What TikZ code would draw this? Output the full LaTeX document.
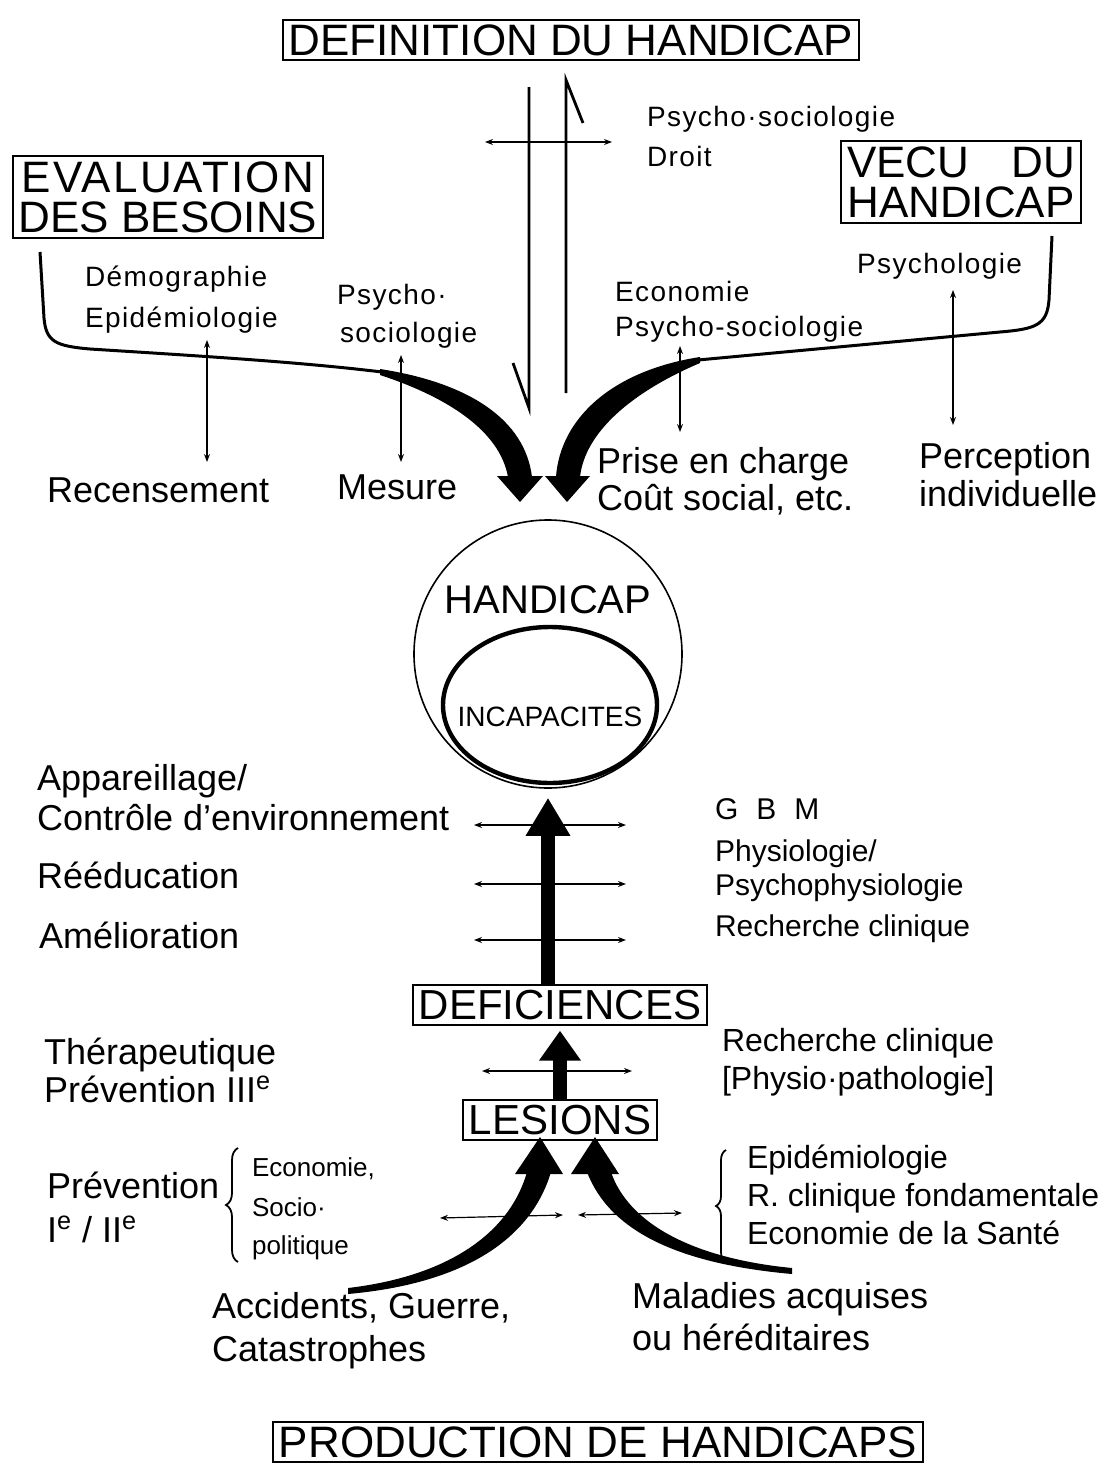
\documentclass[tikz,border=0pt]{standalone}
\usepackage{fontspec}
\setmainfont{Liberation Sans}
\newfontfamily\widefont[LetterSpace=5]{Liberation Sans}
\usetikzlibrary{arrows.meta,shapes.geometric,decorations.pathreplacing}

\begin{document}
\begin{tikzpicture}[x=0.5pt, y=-0.5pt,
    titlebox/.style={draw, line width=1pt, inner xsep=3pt, inner ysep=2.5pt, font=\fontsize{22}{20}\selectfont},
    lbl/.style={anchor=base west, font=\fontsize{18}{20}\selectfont},
    note/.style={anchor=base west, font=\fontsize{15}{17}\selectfont},
    wnote/.style={anchor=base west, font=\widefont\fontsize{14}{16}\selectfont},
    tw/.style={<->, >={Stealth[length=4pt,width=3pt]}, line width=0.6pt},
    fat/.style={line width=7pt, -{Triangle[length=19pt,width=21pt]}},
  ]
  \useasboundingbox (0,0) rectangle (1106,1467);

  % Boxes
  \node[titlebox, text depth=0pt] (defn) at (571,40) {DEFINITION DU HANDICAP};
  \node[titlebox, align=center] (evalb) at (168,197) {{\widefont EVALUATION}\\DES BESOINS};
  \node[titlebox, align=center] (vecu) at (961,182) {\makebox[114pt][s]{VECU DU}\\HANDICAP};
  \node[titlebox, text depth=0pt, font=\fontsize{21}{24}\selectfont] (defic) at (560,1005) {DEFICIENCES};
  \node[titlebox, text depth=0pt, font=\fontsize{21}{24}\selectfont] (lesions) at (560,1120) {LESIONS};
  \node[titlebox, text depth=0pt] (prod) at (598,1442) {PRODUCTION DE HANDICAPS};

  % Handicap / incapacites
  \node[circle, draw, line width=0.8pt, minimum size=134pt, inner sep=0pt] (hcirc) at (548,654) {};
  \node[ellipse, draw, line width=2.2pt, minimum width=107pt, minimum height=78pt, inner sep=0pt] (icirc) at (550,705) {};
  \node[font=\fontsize{20}{22}\selectfont] (hand) at (548,600) {HANDICAP};
  \node[font=\fontsize{14}{16}\selectfont] (incap) at (550,717) {INCAPACITES};

  % Definition arrows
  \coordinate (dtop) at (529,87);
  \coordinate (dbot) at (529,408);
  \coordinate (utop) at (566,80);
  \coordinate (ubot) at (566,393);
  \draw[line width=1.4pt] (dtop) -- (dbot) -- ++(-16,-45);
  \draw[line width=1.4pt] (ubot) -- (utop) -- ++(17,43);
  \coordinate (hl) at (485,142);
  \coordinate (hr) at (612,142);
  \draw[tw] (hl) -- (hr);
  \node[wnote] (psysoc) at (640,126) {Psycho·sociologie};
  \node[wnote] (droit) at (640,166) {Droit};

  % Left stream
  \coordinate (lsrc) at (40,252);
  \draw[line width=1.5pt] (lsrc) -- (44,318) .. controls (46,342) and (56,346) .. (90,349)
    .. controls (200,356) and (300,362) .. (382,372);
  \fill (380,369) .. controls (470,383) and (525,420) .. (532,477) -- (508,477)
    .. controls (500,432) and (450,398) .. (380,375) -- cycle;
  \fill (497,476) -- (543,476) -- (520,502) -- cycle;

  % Right stream
  \coordinate (rsrc) at (1052,236);
  \draw[line width=1.5pt] (rsrc) -- (1049,300) .. controls (1047,325) and (1036,329) .. (1000,332) -- (698,360);
  \fill (700,357) .. controls (610,371) and (560,420) .. (556,477) -- (580,477)
    .. controls (585,432) and (632,392) .. (700,363) -- cycle;
  \fill (545,476) -- (590,476) -- (567,502) -- cycle;

  \foreach \xx/\ya/\yb in {207/340/462, 401/355/462, 680/346/432, 953/290/425}
    \draw[tw] (\xx,\ya) -- (\xx,\yb);

  \node[wnote] (demo) at (78,286) {Démographie};
  \node[wnote] (epid) at (78,327) {Epidémiologie};
  \node[wnote] (psy1) at (330,304) {Psycho·};
  \node[wnote] (soc1) at (333,342) {sociologie};
  \node[wnote] (econ) at (608,301) {Economie};
  \node[wnote] (psysoc2) at (608,336) {Psycho-sociologie};
  \node[wnote] (psylog) at (850,273) {Psychologie};

  \node[lbl] (recens) at (40,502) {Recensement};
  \node[lbl] (mesure) at (330,499) {Mesure};
  \node[lbl] (prise) at (590,473) {Prise en charge};
  \node[lbl] (cout) at (590,510) {Coût social, etc.};
  \node[lbl] (percep) at (912,468) {Perception};
  \node[lbl] (indiv) at (912,506) {individuelle};

  % Deficiences -> handicap
  \draw[fat, shorten >=4.5pt] (defic.north -| hcirc.south) -- (hcirc.south);
  \foreach \yy in {825,884,940}
    \draw[tw] (474,\yy) -- (626,\yy);

  \node[lbl] (appar) at (30,790) {Appareillage/};
  \node[lbl] (contr) at (30,830) {Contrôle d’environnement};
  \node[lbl] (reeduc) at (30,888) {Rééducation};
  \node[lbl] (amelio) at (32,948) {Amélioration};
  \node[note] (gbm) at (708,819) {G\hspace{9pt}B\hspace{9pt}M};
  \node[note] (physio) at (708,861) {Physiologie/};
  \node[note] (psyphys) at (708,895) {Psychophysiologie};
  \node[note] (rclin) at (708,936) {Recherche clinique};

  % Lesions -> deficiences
  \draw[fat, -{Triangle[length=15pt,width=20pt]}, shorten >=2.5pt] (lesions.north) -- (defic.south);
  \draw[tw] (482,1071) -- (632,1071);
  \node[lbl] (therap) at (37,1064) {Thérapeutique};
  \node[lbl] (prev3) at (37,1102) {Prévention III\textsuperscript{e}};
  \node[note, font=\fontsize{16}{18}\selectfont] (rclin2) at (715,1051) {Recherche clinique};
  \node[note, font=\fontsize{16}{18}\selectfont] (physpath) at (715,1089) {[Physio·pathologie]};

  % Causes -> lesions
  \fill (348,1294) .. controls (460,1284) and (530,1242) .. (551,1172) -- (527,1172)
    .. controls (510,1232) and (450,1276) .. (348,1288) -- cycle;
  \fill (515,1174) -- (563,1174) -- (540,1137) -- cycle;
  \fill (792,1274) .. controls (680,1264) and (610,1232) .. (587,1172) -- (611,1172)
    .. controls (628,1222) and (690,1258) .. (792,1268) -- cycle;
  \fill (571,1174) -- (619,1174) -- (595,1137) -- cycle;
  \draw[tw] (440,1218) -- (563,1215);
  \draw[tw] (578,1215) -- (682,1213);

  \node[lbl] (prev) at (40,1198) {Prévention};
  \node[lbl] (prev12) at (40,1242) {I\textsuperscript{e} / II\textsuperscript{e}};
  \draw[line width=0.9pt, decorate, decoration={brace, amplitude=6pt}] (238,1262) -- (238,1148);
  \node[note, font=\fontsize{13}{15}\selectfont] (eco1) at (245,1176) {Economie,};
  \node[note, font=\fontsize{13}{15}\selectfont] (socio1) at (245,1216) {Socio·};
  \node[note, font=\fontsize{13}{15}\selectfont] (polit) at (245,1254) {politique};

  \draw[line width=0.9pt, decorate, decoration={brace, amplitude=5pt}] (726,1262) -- (726,1150);
  \node[note, font=\fontsize{16}{18}\selectfont] (epid2) at (740,1168) {Epidémiologie};
  \node[note, font=\fontsize{16}{18}\selectfont] (rclinf) at (740,1206) {R. clinique fondamentale};
  \node[note, font=\fontsize{16}{18}\selectfont] (ecosante) at (740,1244) {Economie de la Santé};

  \node[lbl] (accid) at (205,1318) {Accidents, Guerre,};
  \node[lbl] (catas) at (205,1361) {Catastrophes};
  \node[lbl] (malad) at (625,1308) {Maladies acquises};
  \node[lbl] (hered) at (625,1350) {ou héréditaires};
\end{tikzpicture}
\end{document}
